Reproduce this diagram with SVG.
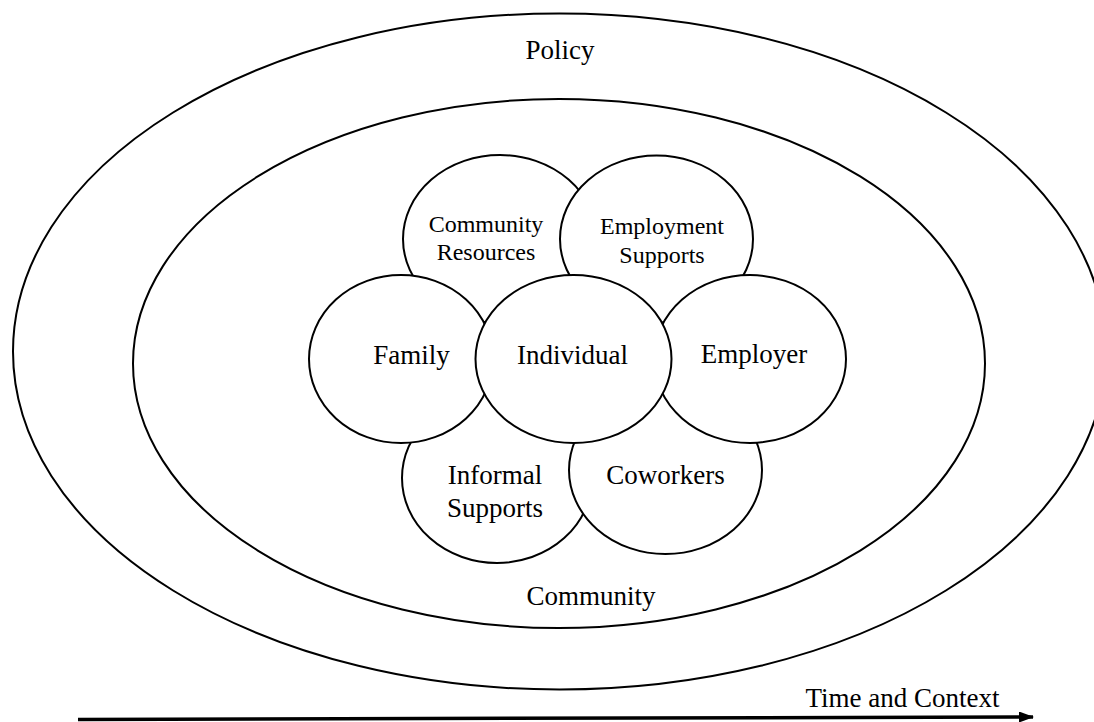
<svg xmlns="http://www.w3.org/2000/svg" width="1094" height="722" viewBox="0 0 1094 722">
<style>
.ring{fill:none;stroke:#000;stroke-width:2}
.node{fill:#fff;stroke:#000;stroke-width:2}
text{font-family:'Liberation Serif','Times New Roman',serif;fill:#000;text-anchor:middle;font-size:27px}
.sm{font-size:24px}
</style>
<defs>
<marker id="arr" markerWidth="15" markerHeight="11" refX="14" refY="5.5" orient="auto" markerUnits="userSpaceOnUse" viewBox="0 0 15 11">
<path d="M0,0 L15,5.5 L0,11 Z" fill="#000"/>
</marker>
</defs>
<rect width="1094" height="722" fill="#fff"/>
<g font-family="Liberation Serif, serif">
<g id="policy">
<ellipse class="ring" cx="559.5" cy="351.5" rx="546.5" ry="338"/>
<text x="560" y="59">Policy</text>
</g>
<g id="community">
<ellipse class="ring" cx="559" cy="363.5" rx="426" ry="264.5"/>
<text x="591" y="605">Community</text>
</g>
<g id="community-resources">
<ellipse class="node" cx="500" cy="239" rx="97" ry="84"/>
<text class="sm" x="486" y="232">Community</text>
<text class="sm" x="486" y="260">Resources</text>
</g>
<g id="employment-supports">
<ellipse class="node" cx="656.5" cy="239" rx="96.5" ry="83.5"/>
<text class="sm" x="662" y="234">Employment</text>
<text class="sm" x="662" y="263">Supports</text>
</g>
<g id="informal-supports">
<ellipse class="node" cx="497" cy="478" rx="95" ry="85"/>
<text x="495" y="484">Informal</text>
<text x="495" y="517">Supports</text>
</g>
<g id="coworkers">
<ellipse class="node" cx="665.5" cy="470" rx="96.5" ry="84"/>
<text x="665.5" y="484">Coworkers</text>
</g>
<g id="family">
<ellipse class="node" cx="401" cy="359" rx="92" ry="84"/>
<text x="411.5" y="364">Family</text>
</g>
<g id="employer">
<ellipse class="node" cx="750" cy="359" rx="96" ry="84"/>
<text x="754" y="363">Employer</text>
</g>
<g id="individual">
<ellipse class="node" cx="573.5" cy="359" rx="98" ry="84"/>
<text x="572.5" y="364">Individual</text>
</g>
<g id="connectors">
<line x1="78" y1="719.5" x2="1033" y2="717" stroke="#000" stroke-width="3.5" marker-end="url(#arr)"/>
</g>
<g id="time-label">
<text x="902.5" y="707">Time and Context</text>
</g>
</g>
</svg>
